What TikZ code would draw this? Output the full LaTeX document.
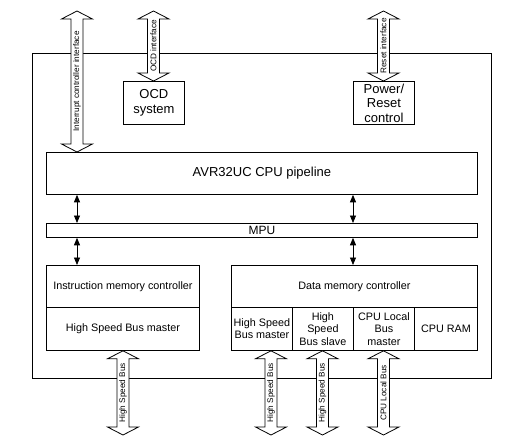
\documentclass[tikz,border=0pt]{standalone}
\usepackage{fontspec}
\setmainfont{Liberation Sans}
\usetikzlibrary{calc,arrows.meta}
\def\fatarrow#1#2#3{%
  \draw[fill=white] let \p1=(#1), \p2=(#2) in
    (\x1,\y1) -- ++(15.5pt,-8pt) -- ++(-9.5pt,0pt) -- (\x1+6pt,\y2+8pt)
    -- ++(9.5pt,0pt) -- (\x2,\y2) -- ++(-15.5pt,8pt) -- ++(9.5pt,0pt)
    -- (\x1-6pt,\y1-8pt) -- ++(-9.5pt,0pt) -- cycle;
  \path (#1) -- node[busfont,rotate=90] {#3} (#2);}

\begin{document}
\begin{tikzpicture}[x=1pt,y=-1pt,line width=0.8pt,
    box/.style={draw,inner sep=0pt,anchor=north west,align=center},
    big/.style={font=\fontsize{13}{14.5}\selectfont},
    small/.style={font=\fontsize{10.8}{12.3}\selectfont},
    busfont/.style={font=\fontsize{8.2}{9}\selectfont},
    link/.style={{Triangle[width=6pt,length=7.5pt]}-{Triangle[width=6pt,length=7.5pt]}}]
    \useasboundingbox (0,0) rectangle (507,447);
    % chip outline
    \node[box,minimum width=459pt,minimum height=325pt] (chip) at (32,53) {};
    \node[box,big,minimum width=61pt,minimum height=43pt] (ocd) at (123,81) {OCD\\system};
    \node[box,big,minimum width=61pt,minimum height=43pt] (pwr) at (353,81) {Power/\\Reset\\control};
    \node[box,big,minimum width=431pt,minimum height=42pt] (pipe) at (46,152) {AVR32UC CPU pipeline};
    \node[box,font=\fontsize{12}{13}\selectfont,minimum width=431pt,minimum height=14pt] (mpu) at (46,223) {MPU};
    % instruction side
    \node[box,small,minimum width=153pt,minimum height=42pt] (imem) at (46,265) {Instruction memory controller};
    \node[box,small,minimum width=153pt,minimum height=43pt] (imbus) at (46,307) {High Speed Bus master};
    % data side
    \node[box,small,minimum width=246pt,minimum height=42pt] (dmem) at (231,265) {Data memory controller};
    \node[box,small,minimum width=61pt,minimum height=43pt] (hsbm) at (231,307) {High Speed\\Bus master};
    \node[box,small,minimum width=61pt,minimum height=43pt] (hsbs) at (292,307) {High\\Speed\\Bus slave};
    \node[box,small,minimum width=61pt,minimum height=43pt] (lbus) at (353,307) {CPU Local\\Bus\\master};
    \node[box,small,minimum width=63pt,minimum height=43pt] (ram) at (414,307) {CPU RAM};
    % free ends
    \coordinate (irq) at (77,11);
    \coordinate (ocdif) at (153.5,11);
    \coordinate (rstif) at (383.5,11);
    \coordinate (hsb1) at (123,435);
    \coordinate (hsb2) at (271,435);
    \coordinate (hsb3) at (322.5,435);
    \coordinate (cpul) at (383.5,435);
    % buses
    \fatarrow{irq}{pipe.north -| irq}{Interrupt controller interface}
    \fatarrow{ocdif}{ocd.north -| ocdif}{OCD interface}
    \fatarrow{rstif}{pwr.north -| rstif}{Reset interface}
    \fatarrow{imbus.south -| hsb1}{hsb1}{High Speed Bus}
    \fatarrow{hsbm.south -| hsb2}{hsb2}{High Speed Bus}
    \fatarrow{hsbs.south -| hsb3}{hsb3}{High Speed Bus}
    \fatarrow{lbus.south -| cpul}{cpul}{CPU Local Bus}
    % internal links
    \draw[link] (pipe.south -| irq) -- (mpu.north -| irq);
    \draw[link] (mpu.south -| irq) -- (imem.north -| irq);
    \draw[link] (pipe.south -| lbus.west) -- (mpu.north -| lbus.west);
    \draw[link] (mpu.south -| lbus.west) -- (dmem.north -| lbus.west);
\end{tikzpicture}
\end{document}
